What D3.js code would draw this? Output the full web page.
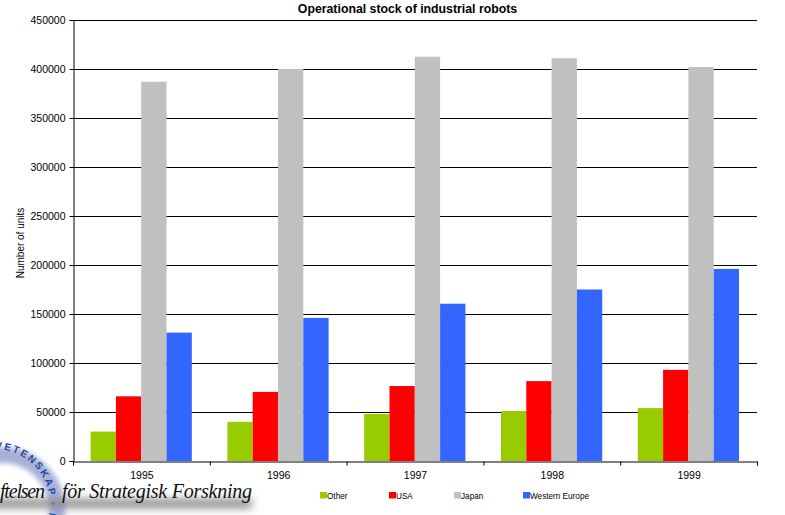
<!DOCTYPE html>
<html><head><meta charset="utf-8">
<script src="https://cdnjs.cloudflare.com/ajax/libs/d3/7.8.5/d3.min.js"></script>
<style>html,body{margin:0;padding:0;background:#fff}svg{display:block}text{font-family:"Liberation Sans",Arial,sans-serif;fill:#000}</style>
</head><body><svg id="c" width="785" height="515"></svg>
<script>
const years = ["1995","1996","1997","1998","1999"];
const seriesNames = ["Other","USA","Japan","Western Europe"];
const seriesColors = ["#99cc00","#ff0000","#c0c0c0","#3366ff"];
const other = [30000,40000,48000,51000,54000];
const usa = [66000,70500,76500,81500,93000];
const japan = [387000,400000,412500,411000,402000];
const westernEurope = [131000,146000,160500,175000,196000];
const yTicks = [0,50000,100000,150000,200000,250000,300000,350000,400000,450000];
const seriesValues = [other,usa,japan,westernEurope];

const svg = d3.select("#c");
const m = {l:73,r:757,t:20,b:461};
const x0 = d3.scaleBand().domain(years).range([m.l,m.r]).paddingInner(0.26).paddingOuter(0.13);
const x1 = d3.scaleBand().domain(seriesNames).range([0,x0.bandwidth()]);
const y = d3.scaleLinear().domain([0,450000]).range([m.b,m.t]);

// logo (behind the axes, bottom-left corner)
const defs = svg.append("defs");
defs.append("filter").attr("id","blur").attr("x","-20%").attr("y","-150%").attr("width","140%").attr("height","400%")
  .append("feGaussianBlur").attr("stdDeviation",4);
defs.append("filter").attr("id","soft").attr("x","-30%").attr("y","-30%").attr("width","160%").attr("height","160%")
  .append("feGaussianBlur").attr("stdDeviation",2.5);
defs.append("path").attr("id","ringText").attr("d","M -5 449 A 55 55 0 0 1 44.8 527");
const logo = svg.append("g");
logo.append("circle").attr("cx",2).attr("cy",510).attr("r",55).attr("fill","none")
  .attr("stroke","#a8b0d8").attr("stroke-width",16).attr("filter","url(#soft)");
logo.append("text").attr("font-size",10).attr("font-weight","bold").style("fill","#1c4a9c").attr("letter-spacing",2)
  .append("textPath").attr("href","#ringText").text("VETENSKAP • N");
const serif = "'Liberation Serif',serif";
const logoWords = [{t:"ftelsen",x:0,len:45},{t:"för Strategisk Forskning",x:62,len:190}];
logo.append("rect").attr("x",-10).attr("y",499).attr("width",262).attr("height",9).attr("fill","#8a8a8a").attr("filter","url(#blur)");
logo.selectAll("text.w").data(logoWords).join("text").attr("class","w")
  .attr("x",d=>d.x).attr("y",498).attr("font-size",20).attr("font-style","italic")
  .attr("textLength",d=>d.len).attr("lengthAdjust","spacing")
  .style("font-family",serif).style("fill","#111").text(d=>d.t);

// gridlines
svg.append("g").selectAll("line").data(yTicks.slice(1)).join("line")
  .attr("x1",m.l).attr("x2",m.r).attr("y1",d=>Math.round(y(d))+.5).attr("y2",d=>Math.round(y(d))+.5)
  .attr("stroke","#000").attr("stroke-width",1);

// bars
seriesNames.forEach((s,i)=>{
  svg.append("g").attr("fill",seriesColors[i]).selectAll("rect").data(seriesValues[i]).join("rect")
    .attr("x",(d,j)=>x0(years[j])+x1(s)-0.2).attr("width",x1.bandwidth())
    .attr("y",d=>y(d)).attr("height",d=>y(0)-y(d));
});

// axes
const yAxis = d3.axisLeft(y).tickValues(yTicks).tickFormat(d3.format("d")).tickSize(4).tickPadding(4);
const gy = svg.append("g").attr("transform",`translate(${m.l+.5},0)`).call(yAxis);
gy.selectAll("text").attr("font-size",10.5).style("font-family","'Liberation Sans',Arial,sans-serif");
const xTickAxis = d3.axisBottom(d3.scaleLinear().domain([0,years.length]).range([m.l,m.r]))
  .ticks(years.length).tickFormat("").tickSize(4);
const gx = svg.append("g").attr("transform",`translate(0,${m.b+.5})`).call(xTickAxis);
gx.selectAll("text").remove();
[gy,gx].forEach(g=>{g.selectAll("path,line").attr("stroke","#000").attr("stroke-width",1)});
svg.append("g").selectAll("text").data(years).join("text")
  .attr("x",d=>x0(d)+x0.bandwidth()/2+0.5).attr("y",479).attr("text-anchor","middle").attr("font-size",10.5).text(d=>d);

// titles
svg.append("text").attr("x",407.5).attr("y",13).attr("text-anchor","middle").attr("font-size",12.3).attr("font-weight","bold")
  .text("Operational stock of industrial robots");
svg.append("text").attr("transform","translate(24,243) rotate(-90)").attr("text-anchor","middle").attr("font-size",10)
  .text("Number of units");

// legend
const legendLeft = [320,389,454,523];
const lg = svg.append("g").selectAll("g").data(seriesNames).join("g")
  .attr("transform",(d,i)=>`translate(${legendLeft[i]},492)`);
lg.append("rect").attr("width",7).attr("height",6.5).attr("fill",(d,i)=>seriesColors[i]);
lg.append("text").attr("x",7).attr("y",7).attr("font-size",8.2).text(d=>d);
</script></body></html>
